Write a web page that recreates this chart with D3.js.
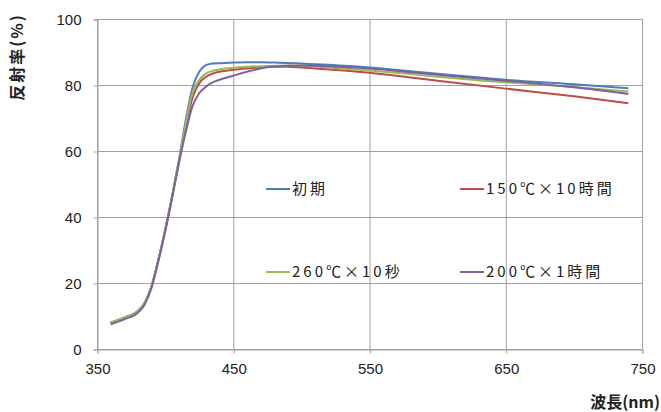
<!DOCTYPE html>
<html>
<head>
<meta charset="utf-8">
<script src="https://cdn.jsdelivr.net/npm/d3@7/dist/d3.min.js"></script>
<style>
  body { margin: 0; background: #fff; }
</style>
</head>
<body>
<div id="chart"></div>
<script>
// wavelength (nm) sample points, shared by every series
const wavelengths = [360, 370, 380, 385, 390, 395, 400, 405, 410, 415, 420, 425, 430, 435, 440, 450, 460, 470, 480, 490, 500, 520, 550, 580, 600, 650, 700, 740];
// reflectance (%) per condition
const initial   = [8, 9.5, 11.5, 14, 19, 27, 36, 46, 57, 69, 79, 84, 86, 86.5, 86.6, 86.8, 86.9, 86.9, 86.8, 86.7, 86.5, 86.1, 85.3, 84.2, 83.4, 81.6, 80.2, 79];
const h150x10h  = [8, 9.5, 11.5, 14, 19, 27, 36, 46, 56.5, 67, 76, 80.5, 82.5, 83.5, 84, 84.6, 85, 85.3, 85.5, 85.5, 85.3, 84.7, 83.7, 82.3, 81.3, 78.9, 76.6, 74.5];
const h260x10s  = [8, 9.5, 11.5, 14, 19, 27, 36, 46, 57, 68, 77.5, 81.5, 83.5, 84.3, 84.7, 85.2, 85.5, 85.7, 85.8, 85.9, 85.8, 85.3, 84.4, 83.3, 82.5, 80.8, 79.4, 78];
const h200x1h   = [7.5, 9, 11, 13.5, 18.5, 26.5, 35.5, 45.5, 56, 65.5, 73.5, 77.5, 79.5, 80.8, 81.6, 82.8, 84, 85, 85.6, 85.8, 85.9, 85.7, 85, 83.9, 83.1, 81.3, 79.3, 77.3];

const seriesNames = ["初期", "150℃×10時間", "260℃×10秒", "200℃×1時間"];
const seriesValues = [initial, h150x10h, h260x10s, h200x1h];
const seriesColors = ["#4a7ebb", "#be4b48", "#98b954", "#7d60a0"];

const xTicks = [350, 450, 550, 650, 750];
const yTicks = [0, 20, 40, 60, 80, 100];

const W = 661, H = 412;
const margin = { top: 19, right: 19, bottom: 63, left: 97 };
const width = W - margin.left - margin.right,
      height = H - margin.top - margin.bottom;

const svg = d3.select("#chart").append("svg")
    .attr("width", W)
    .attr("height", H);

const g = svg.append("g")
    .attr("transform", "translate(" + margin.left + "," + margin.top + ")");

const x = d3.scaleLinear().domain([350, 750]).range([0, width]);
const y = d3.scaleLinear().domain([0, 100]).range([height, 0]);

const gridColor = "#a0a0a0";
const tickFont = "'Liberation Sans', Arial, sans-serif";
const jpFont = "'Noto Sans CJK JP', sans-serif";

// gridlines
g.append("g").selectAll("line").data(yTicks).enter().append("line")
    .attr("x1", 0).attr("x2", width)
    .attr("y1", d => y(d) + 0.5).attr("y2", d => y(d) + 0.5)
    .attr("stroke", gridColor);
g.append("g").selectAll("line").data(xTicks).enter().append("line")
    .attr("y1", 0).attr("y2", height)
    .attr("x1", d => x(d) + 0.5).attr("x2", d => x(d) + 0.5)
    .attr("stroke", gridColor);

// axes
const yAxis = d3.axisLeft(y).tickValues(yTicks).tickSize(4).tickPadding(12);
const xAxis = d3.axisBottom(x).tickValues(xTicks).tickSize(4).tickPadding(10);

const gy = g.append("g").attr("transform", "translate(0.5,0.5)").call(yAxis);
const gx = g.append("g").attr("transform", "translate(0.5," + (height + 0.5) + ")").call(xAxis);
[gx, gy].forEach(a => {
    a.select(".domain").attr("stroke", gridColor);
    a.selectAll(".tick line").attr("stroke", gridColor);
    a.selectAll("text")
        .attr("font-family", tickFont)
        .attr("font-size", 15)
        .attr("fill", "#222");
});

// series lines
const line = d3.line()
    .x(d => x(d[0]))
    .y(d => y(d[1]))
    .curve(d3.curveMonotoneX);

seriesValues.forEach((vals, i) => {
    g.append("path")
        .datum(wavelengths.map((w, j) => [w, vals[j]]))
        .attr("fill", "none")
        .attr("stroke", seriesColors[i])
        .attr("stroke-width", 2)
        .attr("stroke-linejoin", "round")
        .attr("d", line);
});

// legend (2 x 2, laid over the plot)
const legendPos = [[266, 189], [460, 189], [266, 272], [460, 272]];
const legend = svg.append("g");
seriesNames.forEach((name, i) => {
    const p = legendPos[i];
    const item = legend.append("g").attr("transform", "translate(" + p[0] + "," + p[1] + ")");
    item.append("line")
        .attr("x1", 0).attr("x2", 24)
        .attr("stroke", seriesColors[i])
        .attr("stroke-width", 2);
    item.append("text")
        .attr("x", 26)
        .attr("dy", "0.35em")
        .attr("font-family", jpFont)
        .attr("font-size", 15)
        .attr("letter-spacing", 3)
        .attr("fill", "#222")
        .text(name);
});

// axis titles
svg.append("text")
    .attr("transform", "translate(17,57) rotate(-90)")
    .attr("text-anchor", "middle")
    .attr("dy", "0.35em")
    .attr("font-family", jpFont)
    .attr("font-weight", "bold")
    .attr("font-size", 16)
    .attr("letter-spacing", 2)
    .attr("fill", "#222")
    .text("反射率(%)");

svg.append("text")
    .attr("x", 660)
    .attr("y", 402)
    .attr("text-anchor", "end")
    .attr("dy", "0.35em")
    .attr("font-family", jpFont)
    .attr("font-weight", "bold")
    .attr("font-size", 16)
    .attr("fill", "#222")
    .text("波長(nm)");
</script>
</body>
</html>
